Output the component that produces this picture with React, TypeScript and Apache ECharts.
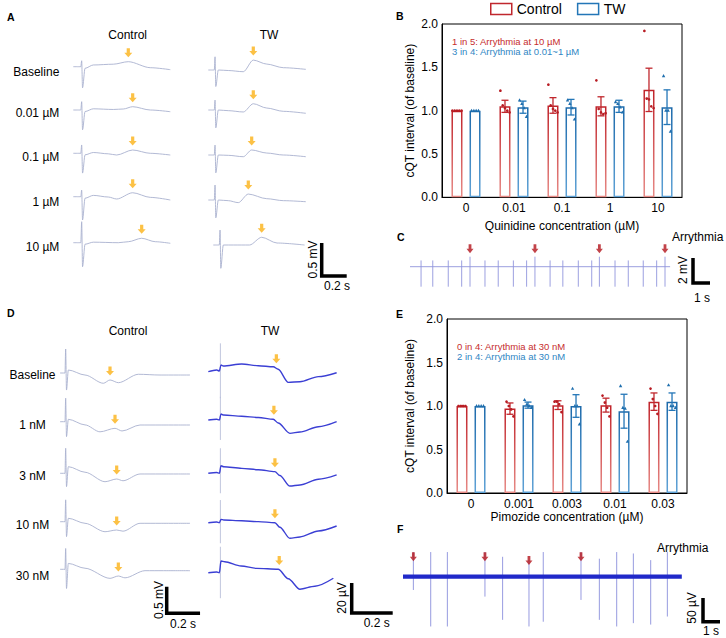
import React, { useEffect, useRef } from "react";
import * as echarts from "echarts";

const FONT = 'Arial, "Liberation Sans", Helvetica, sans-serif';
const RED = "#c0272d";
const BLUE = "#2376b7";
const ORANGE = "#fbb217";
const DARK_RED = "#b3141b";
const TRACE_GREY = "#a9b1cf";
const TRACE_BLUE = "#3b3fd4";
const SPIKE_GREY = "#b9bfd9";
const TRACE_PURPLE = "#9195dd";
const F_BLUE = "#2029c9";
const F_SPIKE = "#8b90dc";

// ---------------- Panel B (quinidine) ----------------
const quinidineLabels = ["0", "0.01", "0.1", "1", "10"];
const bControlMean = [1.0, 1.05, 1.06, 1.05, 1.24];
const bControlSem = [0, 0.07, 0.09, 0.11, 0.25];
const bControlPoints = [
  [1.0, 1.0, 1.0, 1.0, 1.0],
  [1.23, 1.06, 1.03, 1.0, 0.98],
  [1.3, 1.06, 1.02, 1.0, 0.98],
  [1.35, 1.02, 0.98, 0.96, 0.97],
  [1.92, 1.14, 1.13, 1.05, 1.03],
];
const bTwMean = [1.0, 1.04, 1.04, 1.05, 1.04];
const bTwSem = [0, 0.07, 0.09, 0.07, 0.2];
const bTwPoints = [
  [1.0, 1.0, 1.0, 1.0],
  [1.12, 1.08, 1.03, 0.93],
  [1.12, 1.08, 1.03, 0.9],
  [1.1, 1.08, 1.04, 0.98],
  [1.4, 1.0, 1.0, 0.76],
];

// ---------------- Panel E (pimozide) ----------------
const pimozideLabels = ["0", "0.001", "0.003", "0.01", "0.03"];
const eControlMean = [1.0, 0.97, 1.01, 1.01, 1.05];
const eControlSem = [0, 0.065, 0.05, 0.08, 0.1];
const eControlPoints = [
  [1.0, 1.0, 1.0, 1.0],
  [1.05, 1.0, 0.96, 0.88],
  [1.05, 1.05, 1.02, 0.93],
  [1.12, 1.04, 0.98, 0.88],
  [1.2, 1.08, 1.0, 0.91],
];
const eTwMean = [1.0, 1.01, 1.0, 0.94, 1.05];
const eTwSem = [0, 0.035, 0.13, 0.195, 0.1];
const eTwPoints = [
  [1.0, 1.0, 1.0, 1.0],
  [1.07, 1.02, 1.0, 0.98],
  [1.2, 1.0, 1.0, 0.79],
  [1.23, 0.98, 0.97, 0.59],
  [1.24, 1.0, 1.0, 0.98],
];
const cqtTicks = [0, 0.5, 1.0, 1.5, 2.0];

// ---------------- Panel A traces (t in s, v in mV) ----------------
const aRowLabels = ["Baseline", "0.01 \u00b5M", "0.1 \u00b5M", "1 \u00b5M", "10 \u00b5M"];
const aCtrlBaseline = [[0, 0], [0.06, 0], [0.067, 0.09], [0.074, -0.32], [0.094, -0.024], [0.16, 0.026], [0.32, 0.038], [0.44, 0.076], [0.616, -0.015], [0.776, -0.045]];
const aCtrl001 = [[0, 0], [0.06, 0], [0.067, 0.126], [0.074, -0.3], [0.094, -0.023], [0.16, 0.018], [0.32, 0.008], [0.4, 0.015], [0.475, 0.05], [0.616, 0], [0.776, -0.026]];
const aCtrl01 = [[0, 0], [0.06, 0], [0.067, 0.126], [0.074, -0.3], [0.094, -0.023], [0.16, 0.012], [0.28, -0.008], [0.347, -0.026], [0.475, 0.05], [0.616, 0], [0.776, -0.026]];
const aCtrl1 = [[0, 0], [0.06, 0], [0.067, 0.1], [0.074, -0.353], [0.094, -0.023], [0.16, 0.02], [0.28, -0.005], [0.347, -0.035], [0.475, 0.06], [0.616, -0.01], [0.776, -0.05]];
const aCtrl10 = [[0, 0], [0.06, 0], [0.067, 0.318], [0.074, -0.364], [0.094, -0.023], [0.16, 0.008], [0.36, 0], [0.44, 0.015], [0.547, 0.067], [0.656, 0.015], [0.776, -0.009]];
const aCtrlTMarks = [[0.44, 0.076], [0.475, 0.05], [0.475, 0.05], [0.475, 0.06], [0.547, 0.067]];

const aTwBaseline = [[0, 0], [0.048, 0], [0.054, 0.2], [0.06, -0.25], [0.08, 0], [0.16, -0.008], [0.28, -0.026], [0.36, 0.15], [0.467, 0.09], [0.6, 0.035], [0.78, 0.01]];
const aTw001 = [[0, 0], [0.048, 0], [0.054, 0.15], [0.06, -0.27], [0.08, 0], [0.16, -0.01], [0.28, -0.03], [0.36, 0.095], [0.467, 0.03], [0.6, -0.02], [0.78, -0.05]];
const aTw01 = [[0, 0], [0.048, 0], [0.054, 0.15], [0.06, -0.27], [0.08, 0], [0.16, -0.005], [0.28, -0.026], [0.347, 0.076], [0.467, 0.03], [0.6, 0], [0.78, -0.026]];
const aTw1 = [[0, 0], [0.048, 0], [0.054, 0.227], [0.06, -0.27], [0.08, 0], [0.16, -0.01], [0.24, -0.04], [0.32, 0.09], [0.467, 0.02], [0.6, -0.01], [0.78, -0.026]];
const aTw10 = [[0.04, 0], [0.088, 0], [0.094, 0.227], [0.1, -0.353], [0.12, 0], [0.2, 0], [0.33, 0], [0.427, 0.117], [0.55, 0.03], [0.77, 0]];
const aTwTMarks = [[0.36, 0.15], [0.36, 0.095], [0.347, 0.076], [0.32, 0.09], [0.427, 0.117]];

// ---------------- Panel D traces ----------------
const dRowLabels = ["Baseline", "1 nM", "3 nM", "10 nM", "30 nM"];
// control: t in s, v in mV
const dCtrlBaseline = [[0, 0], [0.03, 0], [0.034, 0.45], [0.039, -0.32], [0.05, 0.056], [0.15, -0.038], [0.26, -0.193], [0.3, -0.131], [0.35, -0.182], [0.47, -0.024], [0.6, -0.038], [0.78, -0.038]];
const dCtrl1 = [[0, 0], [0.03, 0], [0.034, 0.44], [0.039, -0.28], [0.05, 0.045], [0.15, -0.06], [0.24, -0.19], [0.33, -0.124], [0.372, -0.174], [0.48, -0.062], [0.6, -0.062], [0.78, -0.062]];
const dCtrl3 = [[0, 0], [0.03, 0], [0.034, 0.47], [0.039, -0.25], [0.05, 0.124], [0.15, 0.02], [0.27, -0.158], [0.34, -0.107], [0.378, -0.14], [0.48, -0.013], [0.6, -0.013], [0.78, -0.013]];
const dCtrl10 = [[0, 0], [0.03, 0], [0.034, 0.41], [0.039, -0.28], [0.05, 0.064], [0.15, -0.03], [0.27, -0.188], [0.34, -0.156], [0.378, -0.178], [0.48, -0.03], [0.6, -0.03], [0.78, -0.03]];
const dCtrl30 = [[0, 0], [0.03, 0], [0.034, 0.39], [0.039, -0.36], [0.05, 0.11], [0.15, 0.02], [0.3, -0.17], [0.35, -0.126], [0.39, -0.16], [0.51, -0.026], [0.62, -0.026], [0.78, -0.026]];
const dCtrlTMarks = [[0.3, -0.131], [0.33, -0.124], [0.34, -0.107], [0.34, -0.156], [0.35, -0.126]];
// TW: t in s, v in µV (trace without the stimulus spike; spikes listed separately)
const dTwBaseline = [[0, 0], [0.041, 1.1], [0.054, 0.5], [0.062, 4.5], [0.073, 3.8], [0.163, 5.1], [0.244, 4], [0.317, 3.3], [0.341, 1.6], [0.39, -7.1], [0.447, -6.7], [0.537, -3.3], [0.626, -0.7]];
const dTw1 = [[0, 0], [0.041, 0.5], [0.054, 0], [0.062, 4], [0.075, 3.3], [0.163, 2.5], [0.244, 1.7], [0.317, 0.5], [0.341, -2], [0.398, -8.9], [0.447, -8], [0.537, -4.5], [0.626, -1.1]];
const dTw3 = [[0, 0], [0.041, 0.5], [0.054, 0], [0.062, 5], [0.075, 4.4], [0.163, 3.3], [0.244, 2.4], [0.325, 1.1], [0.349, -1.5], [0.398, -8.5], [0.447, -7.8], [0.537, -4], [0.626, -1.1]];
const dTw10 = [[0, 0], [0.041, 0.5], [0.054, 0], [0.062, 2.2], [0.075, 1.8], [0.163, 1.3], [0.244, 0.7], [0.325, 0], [0.349, -3], [0.398, -10.4], [0.447, -9.5], [0.537, -5.5], [0.626, -2.2]];
const dTw30 = [[0, 0], [0.041, 0.5], [0.054, 0], [0.062, 7.8], [0.08, 7.3], [0.16, 4.5], [0.236, 2.9], [0.341, 2.3], [0.39, -4], [0.447, -11], [0.52, -9], [0.61, -3.7]];
const dTwSpikes = [[0.059, 18.9, -17.7], [0.059, 15.5, -13.3], [0.059, 16.7, -13.3], [0.059, 15.1, -13.7], [0.059, 17.3, -17]];
const dTwTMarks = [[0.332, 2.6], [0.32, 0.5], [0.325, 1.1], [0.325, 0], [0.346, 2.2]];

// ---------------- Panel C (quinidine TW arrhythmia, mV) ----------------
const cBeatTimes = [0.65, 1.34, 2.25, 3.04, 3.53, 4.41, 5.19, 6.08, 6.86, 7.35, 8.24, 8.99, 9.9, 10.69, 11.14, 12.06, 12.84, 13.72, 14.51, 15.0];
const cBeatUp = [0.5, 0.5, 0.5, 0.5, 0.8, 0.5, 0.5, 0.5, 0.5, 0.8, 0.5, 0.5, 0.5, 0.5, 0.8, 0.5, 0.5, 0.5, 0.5, 0.8];
const cBeatDown = [-1.6, -1.6, -1.6, -1.6, -1.6, -1.6, -1.6, -1.6, -1.6, -1.6, -1.6, -1.6, -1.6, -1.6, -1.6, -1.6, -1.6, -1.6, -1.6, -1.6];
const cBaseline = [[0, 0], [15.3, 0]];
const cArrhythmiaBeats = [4, 9, 14, 19];

// ---------------- Panel F (pimozide TW arrhythmia, µV) ----------------
const fBeatTimes = [0.61, 1.63, 2.61, 4.82, 5.86, 7.41, 8.25, 10.47, 11.55, 12.57, 13.55, 14.57, 15.55];
const fBeatUp = [52, 52, 52, 52, 42, 35, 52, 52, 38, 52, 49, 35, 52];
const fBeatDown = [-28, -105, -105, -42, -91, -105, -95, -49, -91, -105, -98, -101, -84];
const fBaseline = [[0, 0], [16.4, 0]];
const fArrowTimes = [0.61, 4.82, 7.41, 10.47];
const fArrowLevels = [42, 42, 34, 42];

const ARROW = "path://M3,0L7,0L7,5L10,5L5,10L0,5L3,5Z";

type Scale = { pxPerS: number; pxPerV: number; tMax: number; vMin: number; vMax: number };
const A_SC: Scale = { pxPerS: 125, pxPerV: 66, tMax: 0.8, vMin: -0.45, vMax: 0.4 };
const D_CTRL_SC: Scale = { pxPerS: 166.7, pxPerV: 53.3, tMax: 0.8, vMin: -0.45, vMax: 0.55 };
const D_TW_SC: Scale = { pxPerS: 205, pxPerV: 1.5, tMax: 0.65, vMin: -30, vMax: 30 };
const C_SC: Scale = { pxPerS: 17, pxPerV: 12.5, tMax: 15.3, vMin: -2, vMax: 1.5 };
const F_SC: Scale = { pxPerS: 17, pxPerV: 0.474, tMax: 16.4, vMin: -120, vMax: 70 };

function buildOption() {
  const grids: any[] = [];
  const xAxes: any[] = [];
  const yAxes: any[] = [];
  const series: any[] = [];
  const graphic: any[] = [];

  const addGrid = (g: any, x: any, y: any) => {
    const i = grids.length;
    grids.push(g);
    xAxes.push({ ...x, gridIndex: i });
    yAxes.push({ ...y, gridIndex: i });
    return i;
  };

  const addTraceGrid = (left: number, baseY: number, sc: Scale) =>
    addGrid(
      { left, top: baseY - sc.vMax * sc.pxPerV, width: sc.tMax * sc.pxPerS, height: (sc.vMax - sc.vMin) * sc.pxPerV, containLabel: false },
      { type: "value", min: 0, max: sc.tMax, show: false },
      { type: "value", min: sc.vMin, max: sc.vMax, show: false }
    );

  const spikeSeries = (i: number, spikes: number[][], color: string, w: number) => ({
    type: "custom", xAxisIndex: i, yAxisIndex: i, silent: true, clip: false,
    data: spikes,
    encode: { x: 0, y: [1, 2] },
    renderItem: (_p: any, api: any) => {
      const a = api.coord([api.value(0), api.value(1)]);
      const b = api.coord([api.value(0), api.value(2)]);
      return { type: "line", shape: { x1: a[0], y1: a[1], x2: b[0], y2: b[1] }, style: { stroke: color, lineWidth: w } };
    },
  });

  const addTrace = (left: number, baseY: number, sc: Scale, data: number[][], color: string, width: number, mark: number[] | null, spike?: number[]) => {
    const i = addTraceGrid(left, baseY, sc);
    if (spike) series.push(spikeSeries(i, [spike], SPIKE_GREY, 0.9));
    series.push({
      type: "line", xAxisIndex: i, yAxisIndex: i, data, symbol: "none", showSymbol: false,
      smooth: 0.3, smoothMonotone: "x", lineStyle: { color, width }, silent: true, clip: false,
    });
    if (mark) {
      series.push({
        type: "scatter", xAxisIndex: i, yAxisIndex: i, data: [mark], symbol: ARROW, symbolSize: [8, 9],
        symbolOffset: [0, -9], itemStyle: { color: ORANGE }, silent: true, clip: false, z: 5,
      });
    }
  };

  const txt = (text: string, x: number, y: number, o: any = {}) => ({
    type: "text", x, y, rotation: o.rot || 0, silent: true,
    style: {
      text, fill: o.color || "#000", fontSize: o.size || 12, fontFamily: FONT, fontWeight: o.weight || "normal",
      align: o.align || "center", verticalAlign: "middle",
    },
  });

  const scaleBar = (x: number, y: number, sc: Scale, vLen: number, tLen: number) => ({
    type: "polyline", silent: true,
    shape: { points: [[x, y - vLen * sc.pxPerV], [x, y], [x + tLen * sc.pxPerS, y]] },
    style: { stroke: "#000", lineWidth: 3.5, fill: null, lineJoin: "miter" },
  });

  // ---- Panel A ----
  const aCtrl = [aCtrlBaseline, aCtrl001, aCtrl01, aCtrl1, aCtrl10];
  const aTw = [aTwBaseline, aTw001, aTw01, aTw1, aTw10];
  const aCtrlY = [66.7, 110, 153.3, 196.7, 242.7];
  const aTwY = [70, 110, 155, 200, 245];
  const aLabelY = [71.7, 113, 156.7, 201.7, 246.7];
  aCtrl.forEach((d, r) => addTrace(73.3, aCtrlY[r], A_SC, d, TRACE_GREY, 0.9, aCtrlTMarks[r]));
  aTw.forEach((d, r) => addTrace(208.3, aTwY[r], A_SC, d, TRACE_GREY, 0.9, aTwTMarks[r]));
  aRowLabels.forEach((l, r) => graphic.push(txt(l, 59.3, aLabelY[r], { align: "right" })));
  graphic.push(txt("Control", 127.7, 35), txt("TW", 269, 35));
  graphic.push(scaleBar(321.7, 276, A_SC, 0.5, 0.2));
  graphic.push(txt("0.5 mV", 312.5, 259.5, { rot: Math.PI / 2 }), txt("0.2 s", 337, 285.5));

  // ---- Panel D ----
  const dCtrl = [dCtrlBaseline, dCtrl1, dCtrl3, dCtrl10, dCtrl30];
  const dTw = [dTwBaseline, dTw1, dTw3, dTw10, dTw30];
  const dCtrlY = [373, 421.7, 473.3, 521.7, 569.3];
  const dTwY = [371.7, 420, 473.3, 522.7, 572.7];
  const dLabelY = [375, 425, 475.7, 525, 576];
  dCtrl.forEach((d, r) => addTrace(60, dCtrlY[r], D_CTRL_SC, d, TRACE_GREY, 0.9, dCtrlTMarks[r]));
  dTw.forEach((d, r) => addTrace(208.3, dTwY[r], D_TW_SC, d, TRACE_BLUE, 1.4, dTwTMarks[r], dTwSpikes[r]));
  dRowLabels.forEach((l, r) => graphic.push(txt(l, 32.5, dLabelY[r])));
  graphic.push(txt("Control", 128, 331), txt("TW", 270, 331));
  graphic.push(scaleBar(166.7, 613.3, D_CTRL_SC, 0.5, 0.2));
  graphic.push(txt("0.5 mV", 159, 600, { rot: Math.PI / 2 }), txt("0.2 s", 183, 623.5));
  graphic.push(scaleBar(351.7, 613, D_TW_SC, 20, 0.2));
  graphic.push(txt("20 \u00b5V", 341.5, 598, { rot: Math.PI / 2 }), txt("0.2 s", 376.7, 623));

  // ---- Panel C ----
  const ci = addTraceGrid(410, 266.7, C_SC);
  series.push({ type: "line", xAxisIndex: ci, yAxisIndex: ci, data: cBaseline, symbol: "none", lineStyle: { color: TRACE_PURPLE, width: 0.9 }, silent: true });
  series.push(spikeSeries(ci, cBeatTimes.map((t, k) => [t, cBeatUp[k], cBeatDown[k]]), TRACE_PURPLE, 0.9));
  series.push({
    type: "scatter", xAxisIndex: ci, yAxisIndex: ci, data: cArrhythmiaBeats.map((k) => [cBeatTimes[k], cBeatUp[k]]),
    symbol: ARROW, symbolSize: [7, 9], symbolOffset: [0, -8], itemStyle: { color: DARK_RED }, silent: true, clip: false, z: 5,
  });
  graphic.push(txt("Arrythmia", 672, 237, { align: "left" }));
  graphic.push(scaleBar(693, 283, C_SC, 2, 1));
  graphic.push(txt("2 mV", 683, 270, { rot: Math.PI / 2 }), txt("1 s", 702, 298));

  // ---- Panel F ----
  const fi = addTraceGrid(403, 576.7, F_SC);
  series.push(spikeSeries(fi, fBeatTimes.map((t, k) => [t, fBeatUp[k], fBeatDown[k]]), F_SPIKE, 0.9));
  series.push({ type: "line", xAxisIndex: fi, yAxisIndex: fi, data: fBaseline, symbol: "none", lineStyle: { color: F_BLUE, width: 4.2 }, silent: true });
  series.push({
    type: "scatter", xAxisIndex: fi, yAxisIndex: fi, data: fArrowTimes.map((t, k) => [t, fArrowLevels[k]]),
    symbol: ARROW, symbolSize: [7, 9], itemStyle: { color: DARK_RED }, silent: true, clip: false, z: 5,
  });
  graphic.push(txt("Arrythmia", 657, 548, { align: "left" }));
  graphic.push(scaleBar(703, 621.7, F_SC, 50, 1));
  graphic.push(txt("50 \u00b5V", 692, 608, { rot: Math.PI / 2 }), txt("1 s", 711, 631));

  // ---- Bar panels B and E ----
  const BW = 11;
  const GAP = 0.64;
  const halfSpacing = (BW * (1 + GAP)) / 2;
  const grad = (top: string, bottom: string) =>
    new echarts.graphic.LinearGradient(0, 0, 0, 1, [{ offset: 0, color: top }, { offset: 1, color: bottom }]);

  const addBarPanel = (
    left: number, top: number, height: number, labels: string[],
    cm: number[], cs: number[], cp: number[][], tm: number[], ts: number[], tp: number[][],
    xName: string, yGap: number, xGap: number
  ) => {
    const i = addGrid(
      { left, top, width: 240, height, show: true, borderColor: "#000", borderWidth: 1, containLabel: false },
      {
        type: "category", data: labels, axisLine: { lineStyle: { color: "#000", width: 1 } }, axisTick: { show: false },
        axisLabel: { color: "#000", fontSize: 12, margin: 5, fontFamily: FONT },
        name: xName, nameLocation: "middle", nameGap: xGap, nameTextStyle: { color: "#000", fontSize: 12, fontFamily: FONT },
      },
      {
        type: "value", min: cqtTicks[0], max: cqtTicks[cqtTicks.length - 1], interval: cqtTicks[1] - cqtTicks[0],
        axisLine: { show: true, lineStyle: { color: "#000", width: 1 } }, axisTick: { show: false }, splitLine: { show: false },
        axisLabel: { color: "#000", fontSize: 12, margin: 4, fontFamily: FONT, formatter: (v: number) => v.toFixed(1) },
        name: "cQT interval (of baseline)", nameLocation: "middle", nameGap: yGap,
        nameTextStyle: { color: "#000", fontSize: 12, fontFamily: FONT },
      }
    );
    const groups = [
      { name: "Control", mean: cm, sem: cs, pts: cp, color: RED, top: "#c0232a", bottom: "#e78a86", off: -halfSpacing, dot: "circle", dotColor: "#b81c23" },
      { name: "TW", mean: tm, sem: ts, pts: tp, color: BLUE, top: "#1d6aab", bottom: "#5fa2d6", off: halfSpacing, dot: "tri", dotColor: "#1f6fae" },
    ];
    groups.forEach((g) => {
      series.push({
        type: "bar", name: g.name, xAxisIndex: i, yAxisIndex: i, data: g.mean, barWidth: BW, barGap: `${GAP * 100}%`,
        itemStyle: { color: "#fff", borderColor: grad(g.top, g.bottom), borderWidth: 1.5 }, silent: true, z: 2,
      });
    });
    groups.forEach((g) => {
      series.push({
        type: "custom", name: g.name + " SEM", xAxisIndex: i, yAxisIndex: i, silent: true, z: 4,
        data: g.mean.map((m, c) => [c, m, g.sem[c]]), encode: { x: 0, y: 1 },
        renderItem: (_p: any, api: any) => {
          const c = api.value(0), m = api.value(1), s = api.value(2);
          if (!s) return { type: "group", children: [] };
          const a = api.coord([c, m + s]);
          const b = api.coord([c, m - s]);
          const x = a[0] + g.off;
          const st = { stroke: g.color, lineWidth: 1.3 };
          return {
            type: "group", children: [
              { type: "line", shape: { x1: x, y1: a[1], x2: x, y2: b[1] }, style: st },
              { type: "line", shape: { x1: x - 3.5, y1: a[1], x2: x + 3.5, y2: a[1] }, style: st },
              { type: "line", shape: { x1: x - 3.5, y1: b[1], x2: x + 3.5, y2: b[1] }, style: st },
            ],
          };
        },
      });
      const pts: number[][] = [];
      g.pts.forEach((arr, c) => arr.forEach((v, j) => pts.push([c, v, j, arr.length])));
      series.push({
        type: "custom", name: g.name + " pts", xAxisIndex: i, yAxisIndex: i, silent: true, z: 5,
        data: pts, encode: { x: 0, y: 1 },
        renderItem: (_p: any, api: any) => {
          const c = api.value(0), v = api.value(1), j = api.value(2), n = api.value(3);
          const p = api.coord([c, v]);
          const x = p[0] + g.off + (j - (n - 1) / 2) * 2.3;
          const y = p[1];
          if (g.dot === "circle") return { type: "circle", shape: { cx: x, cy: y, r: 1.35 }, style: { fill: g.dotColor } };
          return { type: "polygon", shape: { points: [[x, y - 1.9], [x - 1.7, y + 1.2], [x + 1.7, y + 1.2]] }, style: { fill: g.dotColor } };
        },
      });
    });
  };

  addBarPanel(442, 24, 173.3, quinidineLabels, bControlMean, bControlSem, bControlPoints, bTwMean, bTwSem, bTwPoints,
    "Quinidine concentration (\u00b5M)", 26, 23);
  addBarPanel(447, 319, 174, pimozideLabels, eControlMean, eControlSem, eControlPoints, eTwMean, eTwSem, eTwPoints,
    "Pimozide concentration (\u00b5M)", 31, 18);

  graphic.push(txt("1 in 5: Arrythmia at 10 \u00b5M", 452, 41, { align: "left", size: 9.5, color: "#c62d2d" }));
  graphic.push(txt("3 in 4: Arrythmia at 0.01~1 \u00b5M", 452, 51, { align: "left", size: 9.5, color: "#2f86c4" }));
  graphic.push(txt("0 in 4: Arrythmia at 30 nM", 457, 346, { align: "left", size: 9.5, color: "#c62d2d" }));
  graphic.push(txt("2 in 4: Arrythmia at 30 nM", 457, 356, { align: "left", size: 9.5, color: "#2f86c4" }));

  // ---- Panel letters ----
  const letters: [string, number, number][] = [["A", 7, 17], ["B", 396, 16], ["C", 397, 237], ["D", 7, 313], ["E", 396, 314], ["F", 397, 529]];
  letters.forEach(([l, x, y]) => graphic.push(txt(l, x, y, { align: "left", size: 10.5, weight: "bold" })));

  return {
    animation: false,
    backgroundColor: "#fff",
    textStyle: { fontFamily: FONT },
    legend: {
      data: [
        { name: "Control", itemStyle: { color: "#fff", borderColor: RED, borderWidth: 1.5 } },
        { name: "TW", itemStyle: { color: "#fff", borderColor: BLUE, borderWidth: 1.5 } },
      ],
      icon: "rect", left: 490, top: 2, itemWidth: 21, itemHeight: 11, itemGap: 15, padding: 0,
      textStyle: { fontSize: 14, color: "#000", fontFamily: FONT }, selectedMode: false,
    },
    grid: grids,
    xAxis: xAxes,
    yAxis: yAxes,
    series,
    graphic,
  };
}

export default function App() {
  const ref = useRef<HTMLDivElement>(null);
  useEffect(() => {
    const chart = echarts.init(ref.current as HTMLDivElement, null, { renderer: "svg" });
    chart.setOption(buildOption() as any);
    return () => chart.dispose();
  }, []);
  return <div ref={ref} style={{ position: "absolute", left: 0, top: 0, width: 726, height: 638, background: "#fff" }} />;
}
